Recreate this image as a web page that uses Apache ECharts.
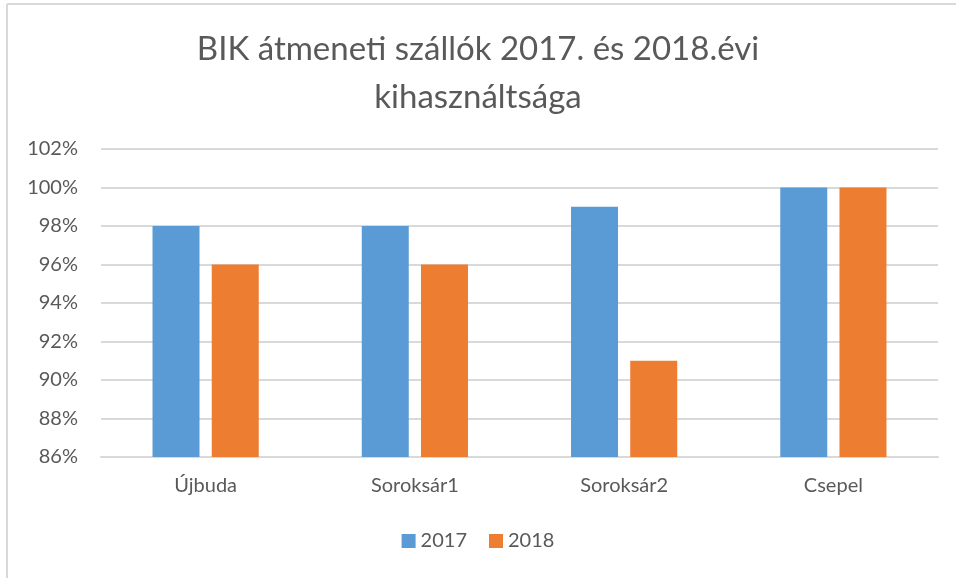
<!DOCTYPE html>
<html>
<head>
<meta charset="utf-8">
<script src="https://cdn.jsdelivr.net/npm/echarts@6/dist/echarts.min.js"></script>
<style>
  html, body { margin: 0; padding: 0; background: #fff; }
  #chart { width: 956px; height: 578px; }
</style>
</head>
<body>
<div id="chart"></div>
<script>
  // adatok
  const categories = ['Újbuda', 'Soroksár1', 'Soroksár2', 'Csepel'];
  const seriesNames = ['2017', '2018'];
  const values2017 = [98, 98, 99, 100];
  const values2018 = [96, 96, 91, 100];
  const yMin = 86, yMax = 102, yStep = 2;

  const textColor = '#595959';
  const font = 'Lato, "Open Sans", sans-serif';

  const chart = echarts.init(document.getElementById('chart'));

  const option = {
    animation: false,
    color: ['#5b9bd5', '#ed7d31'],
    title: {
      text: 'BIK átmeneti szállók 2017. és 2018.évi\nkihasználtsága',
      left: 'center',
      top: 20,
      textStyle: { color: textColor, fontSize: 33, fontWeight: 'normal', fontFamily: font, lineHeight: 48 }
    },
    legend: {
      data: seriesNames,
      bottom: 22,
      left: 'center',
      itemWidth: 14,
      itemHeight: 14,
      itemGap: 22,
      icon: 'rect',
      textStyle: { color: textColor, fontSize: 20, fontFamily: font }
    },
    grid: { left: 101, right: 18, top: 149, bottom: 121 },
    xAxis: {
      type: 'category',
      data: categories,
      axisLine: { lineStyle: { color: '#d9d9d9', width: 2 } },
      axisTick: { show: false },
      axisLabel: { color: textColor, fontSize: 20, fontFamily: font, margin: 19 }
    },
    yAxis: {
      type: 'value',
      min: yMin,
      max: yMax,
      interval: yStep,
      axisLine: { show: false },
      axisTick: { show: false },
      axisLabel: { color: textColor, fontSize: 20, fontFamily: font, margin: 23, formatter: '{value}%' },
      splitLine: { lineStyle: { color: '#d9d9d9', width: 2 } }
    },
    series: [
      {
        name: seriesNames[0],
        type: 'bar',
        data: values2017,
        barWidth: 47,
        barGap: '26%'
      },
      {
        name: seriesNames[1],
        type: 'bar',
        data: values2018,
        barWidth: 47
      }
    ],
    graphic: [
      { type: 'line', shape: { x1: 7, y1: 4, x2: 956, y2: 4 }, style: { stroke: '#d9d9d9', lineWidth: 2 } },
      { type: 'line', shape: { x1: 7, y1: 4, x2: 7, y2: 578 }, style: { stroke: '#d9d9d9', lineWidth: 2 } }
    ]
  };

  chart.setOption(option);
</script>
</body>
</html>
